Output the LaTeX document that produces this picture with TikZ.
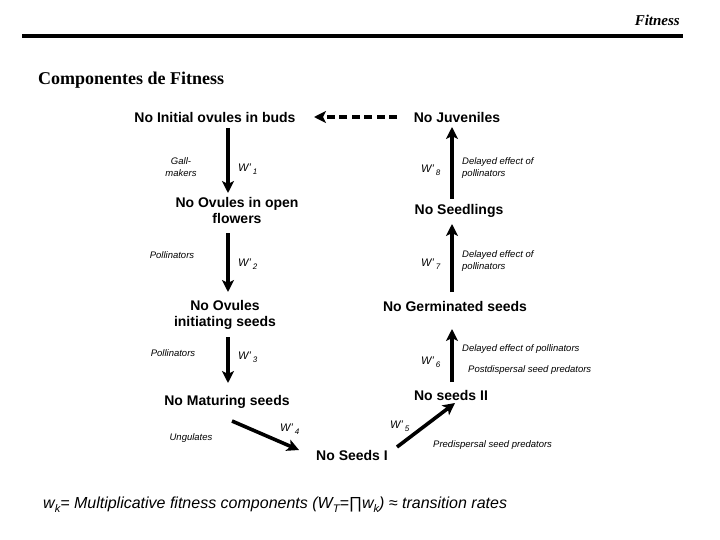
\documentclass[tikz,border=0pt]{standalone}
\usepackage{fontspec}
\setmainfont{Liberation Serif}
\setsansfont{Liberation Sans}
\usetikzlibrary{arrows.meta}
\newcommand{\Wl}[1]{W’\,\raisebox{-3pt}{\fontsize{8}{8}\selectfont #1}}
\newcommand{\sbk}[1]{\raisebox{-4pt}{\fontsize{11}{11}\selectfont #1}}
\tikzset{
  stage/.style={font=\sffamily\bfseries\fontsize{14}{16}\selectfont, inner sep=1pt, align=center},
  agent/.style={font=\sffamily\itshape\fontsize{9.5}{12}\selectfont, inner sep=0pt, align=left},
  wlab/.style={font=\sffamily\itshape\fontsize{11}{12}\selectfont, inner sep=0pt, anchor=west},
  arr/.style={line width=3.6pt, -{Stealth[length=12pt,width=12pt,inset=3pt]}},
  darr/.style={line width=3.6pt, dash pattern=on 8pt off 4.5pt, -{Stealth[length=12pt,width=12pt,inset=3pt]}}
}
\begin{document}
\begin{tikzpicture}[x=1pt,y=-1pt]
\useasboundingbox (0,0) rectangle (720,540);
% header
\node[font=\rmfamily\bfseries\itshape\fontsize{15}{17}\selectfont, anchor=east, inner sep=0pt] (hdr) at (680,20) {Fitness};
\draw[line width=4pt] (22,36) -- (683,36);
\node[font=\rmfamily\bfseries\fontsize{18}{20}\selectfont, anchor=west, inner sep=0pt] (title) at (38,80) {Componentes de Fitness};
% stages
\node[stage] (buds) at (215,117) {No Initial ovules in buds};
\node[stage] (juv) at (457,117) {No Juveniles};
\node[stage] (open) at (237,210) {No Ovules in open\\flowers};
\node[stage] (seedl) at (459,211) {No Seedlings};
\node[stage] (init) at (225,315) {No Ovules\\initiating seeds};
\node[stage] (germ) at (455,306) {No Germinated seeds};
\node[stage] (mat) at (227,402) {No Maturing seeds};
\node[stage] (sII) at (451,395) {No seeds II};
\node[stage] (sI) at (352,455) {No Seeds I};
% arrow end coordinates
\coordinate (a1s) at (228,128); \coordinate (a1e) at (228,193);
\coordinate (a2s) at (228,233); \coordinate (a2e) at (228,292);
\coordinate (a3s) at (228,337); \coordinate (a3e) at (228,383);
\coordinate (a4s) at (232,421); \coordinate (a4e) at (299,450);
\coordinate (a5s) at (397,447); \coordinate (a5e) at (455,403);
\coordinate (a6s) at (452,382); \coordinate (a6e) at (452,329);
\coordinate (a7s) at (452,292); \coordinate (a7e) at (452,224);
\coordinate (a8s) at (452,199); \coordinate (a8e) at (452,127);
\coordinate (d1s) at (397,117); \coordinate (d1e) at (314,117);
% connectors
\draw[darr] (d1s) -- (d1e);
\draw[arr] (a1s) -- (a1e);
\draw[arr] (a2s) -- (a2e);
\draw[arr] (a3s) -- (a3e);
\draw[arr] (a4s) -- (a4e);
\draw[arr] (a5s) -- (a5e);
\draw[arr] (a6s) -- (a6e);
\draw[arr] (a7s) -- (a7e);
\draw[arr] (a8s) -- (a8e);
% W labels
\node[wlab] (w1) at (238,169) {\Wl{1}};
\node[wlab] (w2) at (238,264) {\Wl{2}};
\node[wlab] (w3) at (238,357) {\Wl{3}};
\node[wlab] (w4) at (280,429) {\Wl{4}};
\node[wlab] (w5) at (390,426) {\Wl{5}};
\node[wlab] (w6) at (421,362) {\Wl{6}};
\node[wlab] (w7) at (421,264) {\Wl{7}};
\node[wlab] (w8) at (421,170) {\Wl{8}};
% agents
\node[agent, align=center] (gall) at (181,167) {Gall-\\makers};
\node[agent] (pol2) at (172,255) {Pollinators};
\node[agent] (pol3) at (173,353) {Pollinators};
\node[agent] (ung) at (191,438) {Ungulates};
\node[agent, anchor=west] (pred) at (433,445) {Predispersal seed predators};
\node[agent, anchor=west] (del6) at (462,349) {Delayed effect of pollinators};
\node[agent, anchor=west] (post) at (468,370) {Postdispersal seed predators};
\node[agent, anchor=west] (del7) at (462,261) {Delayed effect of\\pollinators};
\node[agent, anchor=west] (del8) at (462,168) {Delayed effect of\\pollinators};
% footer
\node[font=\sffamily\itshape\fontsize{16}{18}\selectfont, anchor=west, inner sep=0pt] (foot) at (43,505) {w\sbk{k}= Multiplicative fitness components (W\sbk{T}=∏w\sbk{k}) ≈ transition rates};
\end{tikzpicture}
\end{document}
